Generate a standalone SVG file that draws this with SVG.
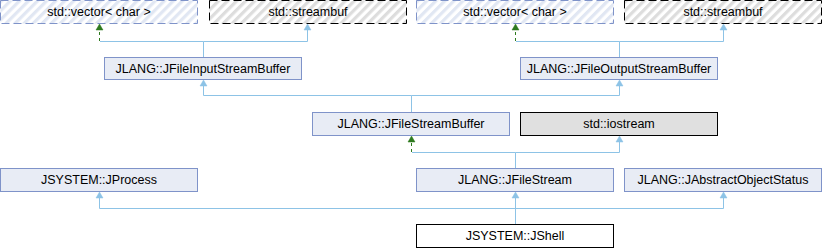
<svg xmlns="http://www.w3.org/2000/svg" xmlns:xlink="http://www.w3.org/1999/xlink" width="822" height="248" viewBox="0 0 822 248">
<style>
text{font-family:"Liberation Sans",Arial,sans-serif;font-size:12.5px;fill:#000;text-anchor:middle}
.n{fill:#E8ECF5;stroke:#7F93C9;stroke-width:1}
.vec{fill:url(#hb);stroke:#7F93C9;stroke-width:1;stroke-dasharray:8,4}
.sb{fill:url(#hg);stroke:#000;stroke-width:1;stroke-dasharray:8,4}
.ext{fill:#E0E0E0;stroke:#000;stroke-width:1}
.cur{fill:#fff;stroke:#000;stroke-width:1}
.e{fill:none;stroke:#8DC3E6;stroke-width:1}
.p{fill:none;stroke:#2E7A1E;stroke-width:1;stroke-dasharray:3,3}
</style>
<defs>
<pattern id="hb" patternUnits="userSpaceOnUse" width="6.4" height="6.4" patternTransform="rotate(45)">
<rect width="6.4" height="6.4" fill="#fff"/><rect width="3.2" height="6.4" fill="#E1E7F3"/>
</pattern>
<pattern id="hg" patternUnits="userSpaceOnUse" width="6.4" height="6.4" patternTransform="rotate(45)">
<rect width="6.4" height="6.4" fill="#fff"/><rect width="3.2" height="6.4" fill="#DDDDDD"/>
</pattern>
<path id="ab" d="M0,0 L3.5,6 L-3.5,6 Z" fill="#8DC3E6" stroke="#8DC3E6" stroke-width="0.5"/>
<path id="ag" d="M0,0 L3.5,6 L-3.5,6 Z" fill="#2E7A1E" stroke="#2E7A1E" stroke-width="0.5"/>
</defs>
<g id="connectors">
<path class="e" d="M203.5,57 V41.5 H307.5 V30"/>
<path class="e" d="M203.5,41.5 H100"/>
<path class="p" d="M99.5,41 V30"/>
<use xlink:href="#ab" x="307.5" y="24"/>
<use xlink:href="#ag" x="99.5" y="24"/>
<path class="e" d="M619.5,57 V41.5 H723.5 V30"/>
<path class="e" d="M619.5,41.5 H516"/>
<path class="p" d="M515.5,41 V30"/>
<use xlink:href="#ab" x="723.5" y="24"/>
<use xlink:href="#ag" x="515.5" y="24"/>
<path class="e" d="M411.5,112 V95.5 H203.5 V86 M411.5,95.5 H619.5 V86"/>
<use xlink:href="#ab" x="203.5" y="80"/>
<use xlink:href="#ab" x="619.5" y="80"/>
<path class="e" d="M515.5,168 V152.5 H619.5 V142 M515.5,152.5 H412"/>
<path class="p" d="M411.5,152 V142"/>
<use xlink:href="#ab" x="619.5" y="136"/>
<use xlink:href="#ag" x="411.5" y="136"/>
<path class="e" d="M515.5,224 V198 M99.5,198 V208.5 H723.5 V198"/>
<use xlink:href="#ab" x="99.5" y="192"/>
<use xlink:href="#ab" x="515.5" y="192"/>
<use xlink:href="#ab" x="723.5" y="192"/>
</g>
<g id="vector1"><rect class="vec" x="0.5" y="0.5" width="197" height="23"/><text x="99" y="16">std::vector&lt; char &gt;</text></g>
<g id="streambuf1"><rect class="sb" x="209.5" y="0.5" width="197" height="23"/><text x="308" y="16">std::streambuf</text></g>
<g id="vector2"><rect class="vec" x="416.5" y="0.5" width="197" height="23"/><text x="515" y="16">std::vector&lt; char &gt;</text></g>
<g id="streambuf2"><rect class="sb" x="624.5" y="0.5" width="197" height="23"/><text x="723" y="16">std::streambuf</text></g>
<g id="JFileInputStreamBuffer"><rect class="n" x="104.5" y="57.5" width="197" height="22"/><text x="203" y="73">JLANG::JFileInputStreamBuffer</text></g>
<g id="JFileOutputStreamBuffer"><rect class="n" x="520.5" y="57.5" width="197" height="22"/><text x="619" y="73">JLANG::JFileOutputStreamBuffer</text></g>
<g id="JFileStreamBuffer"><rect class="n" x="312.5" y="112.5" width="197" height="23"/><text x="411" y="128">JLANG::JFileStreamBuffer</text></g>
<g id="iostream"><rect class="ext" x="520.5" y="112.5" width="197" height="23"/><text x="619" y="128">std::iostream</text></g>
<g id="JProcess"><rect class="n" x="0.5" y="168.5" width="197" height="23"/><text x="99" y="184">JSYSTEM::JProcess</text></g>
<g id="JFileStream"><rect class="n" x="416.5" y="168.5" width="197" height="23"/><text x="515" y="184">JLANG::JFileStream</text></g>
<g id="JAbstractObjectStatus"><rect class="n" x="624.5" y="168.5" width="197" height="23"/><text x="723" y="184">JLANG::JAbstractObjectStatus</text></g>
<g id="JShell"><rect class="cur" x="416.5" y="224.5" width="197" height="23"/><text x="515" y="240">JSYSTEM::JShell</text></g>
</svg>
